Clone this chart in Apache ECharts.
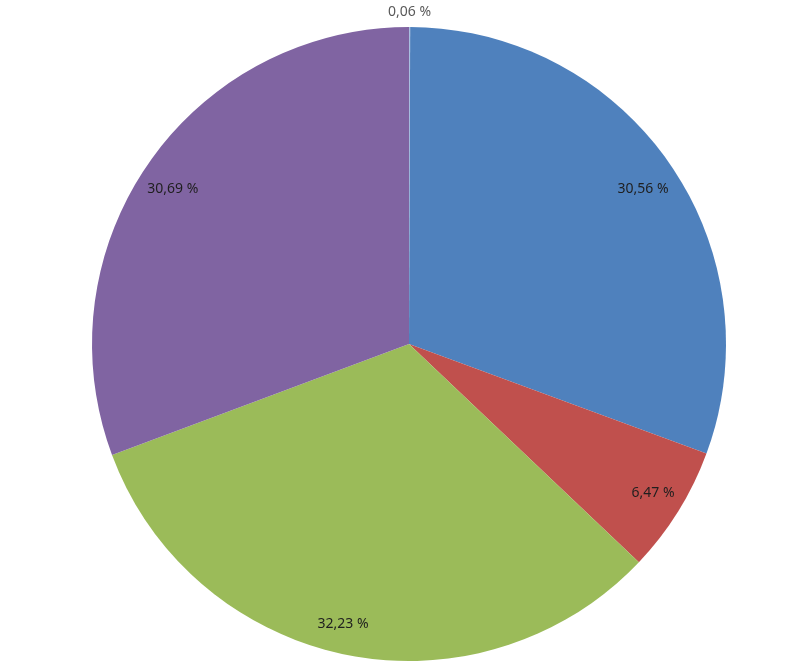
<!DOCTYPE html>
<html>
<head>
<meta charset="utf-8">
<script src="https://cdn.jsdelivr.net/npm/echarts@6/dist/echarts.min.js"></script>
<style>
html,body{margin:0;padding:0;background:#fff;}
#chart{width:800px;height:671px;}
</style>
</head>
<body>
<div id="chart"></div>
<script>
var categories = ['A', 'B', 'C', 'D', 'E'];
var values = [0.06, 30.56, 6.47, 32.23, 30.69];
var colors = ['#a9bfe0', '#4f81bd', '#c0504d', '#9bbb59', '#8064a2'];
var labelOffsets = [[0, -47], [0, 8], [2, -1], [-9, 1], [-2, 8]];

function fmt(v) { return v.toFixed(2).replace('.', ',') + ' %'; }

var chart = echarts.init(document.getElementById('chart'));
var baseData = categories.map(function (c, i) {
  return { name: c, value: values[i], itemStyle: { color: colors[i] } };
});
var labelData = categories.map(function (c, i) {
  var d = { name: c, value: values[i], label: { offset: labelOffsets[i] } };
  if (i === 0) {
    d.label.color = '#595959';
  }
  return d;
});
chart.setOption({
  animation: false,
  series: [
    {
      type: 'pie',
      center: [409, 344],
      radius: [0, 317],
      startAngle: 90,
      clockwise: true,
      silent: true,
      label: { show: false },
      labelLine: { show: false },
      itemStyle: { borderWidth: 0 },
      data: baseData
    },
    {
      type: 'pie',
      center: [409, 344],
      radius: [247, 317],
      startAngle: 90,
      clockwise: true,
      silent: true,
      itemStyle: { color: 'rgba(0,0,0,0)', borderWidth: 0 },
      label: {
        show: true,
        position: 'inside',
        fontFamily: 'Noto Sans',
        fontSize: 14,
        color: '#1f1f1f',
        formatter: function (p) { return fmt(p.value); }
      },
      labelLine: { show: false },
      data: labelData
    }
  ]
});
</script>
</body>
</html>
